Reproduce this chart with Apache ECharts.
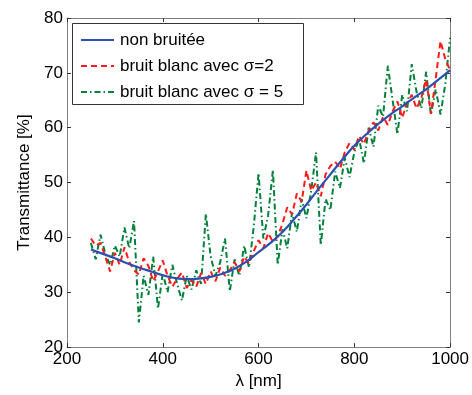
<!DOCTYPE html>
<html>
<head>
<meta charset="utf-8">
<script src="https://cdn.jsdelivr.net/npm/echarts@6/dist/echarts.min.js"></script>
<style>
html,body{margin:0;padding:0;background:#fff;}
#chart{width:472px;height:395px;}
</style>
</head>
<body>
<div id="chart"></div>
<script>
// Wavelength grids (nm)
const lambdaSmooth = [250,275,300,325,350,375,400,425,450,475,500,525,550,575,600,625,650,675,700,725,750,775,800,825,850,875,900,925,950,975,1000];
const lambdaNoisy = [];
for (let w = 250; w <= 1000; w += 10) lambdaNoisy.push(w);

// Transmittance without noise (%)
const nonBruitee = [37.8,37.0,36.2,35.3,34.5,33.8,33.1,32.6,32.4,32.5,32.8,33.4,34.3,35.6,37.3,39.0,41.0,43.4,46.0,48.8,51.5,54.2,56.7,58.8,60.7,62.4,63.9,65.5,67.0,68.7,70.5];

// Transmittance with white noise, sigma = 2 (%)
const bruitSigma2 = [39.8,38.5,39.0,36.5,33.8,37.2,35.0,38.2,35.5,34.0,
  33.2,36.2,34.8,32.0,33.8,35.8,33.0,31.0,32.5,33.6,
  30.8,32.2,31.0,33.5,31.5,33.8,32.0,34.5,33.0,34.0,
  35.5,33.8,36.5,35.2,37.5,39.5,38.0,40.8,39.2,40.2,
  42.5,45.5,44.2,48.0,46.5,52.2,48.5,50.0,47.5,51.5,
  53.0,53.8,52.5,55.5,57.2,56.0,58.5,57.0,59.5,61.0,
  59.5,62.0,60.5,63.0,64.8,61.8,64.5,66.0,63.5,65.5,
  68.8,62.5,69.0,75.8,72.5,70.5];

// Transmittance with white noise, sigma = 5 (%)
const bruitSigma5 = [39.0,36.0,40.5,37.0,35.0,38.5,36.5,41.8,38.0,43.0,
  24.5,33.0,29.5,36.5,27.0,33.5,30.0,35.0,31.5,28.5,
  33.0,30.5,34.0,31.5,44.3,36.5,33.0,35.5,39.8,30.2,
  36.0,33.0,38.5,34.5,42.0,51.7,39.8,44.0,52.3,35.0,
  41.5,38.0,44.5,41.0,47.0,43.5,48.5,55.5,38.6,47.0,
  45.0,52.0,49.0,54.5,51.0,55.5,58.0,53.5,60.0,56.5,
  64.0,62.0,71.3,65.0,58.8,66.0,63.0,71.6,66.5,63.5,
  70.2,62.4,67.0,62.4,68.0,76.4];

const xTicks = [200,400,600,800,1000];
const yTicks = [20,30,40,50,60,70,80];

const seriesNames = ['non bruitée', 'bruit blanc avec σ=2', 'bruit blanc avec σ = 5'];
const seriesColors = ['#2b50b0', '#ff1a1a', '#00803a'];
const seriesDash = [null, [6, 4], [6, 3, 1.5, 3]];

const pairs = (xs, ys) => xs.map((x, i) => [x, ys[i]]);

const FONT = 'Liberation Sans, Arial, sans-serif';
const FS = 17;
const axisGrey = '#7f7f7f';

const chart = echarts.init(document.getElementById('chart'), null, {renderer: 'canvas'});

const baseX = {
  type: 'value', min: xTicks[0], max: xTicks[xTicks.length - 1], interval: 200,
  axisLine: {show: true, lineStyle: {color: axisGrey, width: 1}},
  axisTick: {show: true, inside: true, length: 4, lineStyle: {color: '#333'}},
  splitLine: {show: false}
};
const baseY = {
  type: 'value', min: yTicks[0], max: yTicks[yTicks.length - 1], interval: 10,
  axisLine: {show: true, lineStyle: {color: axisGrey, width: 1}},
  axisTick: {show: true, inside: true, length: 4, lineStyle: {color: '#333'}},
  splitLine: {show: false}
};

// Boxed legend drawn with graphic elements (line samples keep the dash patterns)
const legendGraphics = [{
  type: 'rect', z: 100,
  shape: {x: 72.5, y: 23.5, width: 231, height: 81},
  style: {fill: '#fff', stroke: '#333', lineWidth: 1}
}];
seriesNames.forEach((name, i) => {
  const y = 40 + i * 26;
  legendGraphics.push({
    type: 'line', z: 101,
    shape: {x1: 81, y1: y, x2: 114, y2: y},
    style: {stroke: seriesColors[i], lineWidth: 2, lineDash: seriesDash[i] || null}
  });
  legendGraphics.push({
    type: 'text', z: 101, x: 120, y: y,
    style: {text: name, font: FS + 'px ' + FONT, fill: '#000', verticalAlign: 'middle', align: 'left'}
  });
});

chart.setOption({
  animation: false,
  backgroundColor: '#ffffff',
  grid: {left: 67, right: 16, top: 18, bottom: 41, containLabel: false},
  xAxis: [
    Object.assign({}, baseX, {
      position: 'bottom',
      name: 'λ [nm]', nameLocation: 'middle', nameGap: 23,
      nameTextStyle: {fontFamily: FONT, fontSize: FS, color: '#000'},
      axisLabel: {fontFamily: FONT, fontSize: FS, color: '#000', margin: 4, formatter: v => String(v)}
    }),
    Object.assign({}, baseX, {position: 'top', axisLabel: {show: false}})
  ],
  yAxis: [
    Object.assign({}, baseY, {
      position: 'left',
      name: 'Transmittance [%]', nameLocation: 'middle', nameGap: 27,
      nameTextStyle: {fontFamily: FONT, fontSize: FS, color: '#000'},
      axisLabel: {fontFamily: FONT, fontSize: FS, color: '#000', margin: 4}
    }),
    Object.assign({}, baseY, {position: 'right', axisLabel: {show: false}})
  ],
  graphic: legendGraphics,
  series: [
    {
      name: seriesNames[2], type: 'line', symbol: 'none', z: 2,
      data: pairs(lambdaNoisy, bruitSigma5),
      lineStyle: {color: seriesColors[2], width: 2, type: seriesDash[2]}
    },
    {
      name: seriesNames[1], type: 'line', symbol: 'none', z: 3,
      data: pairs(lambdaNoisy, bruitSigma2),
      lineStyle: {color: seriesColors[1], width: 2, type: seriesDash[1]}
    },
    {
      name: seriesNames[0], type: 'line', symbol: 'none', smooth: true, z: 4,
      data: pairs(lambdaSmooth, nonBruitee),
      lineStyle: {color: seriesColors[0], width: 2.2, type: 'solid'}
    }
  ]
});
</script>
</body>
</html>
